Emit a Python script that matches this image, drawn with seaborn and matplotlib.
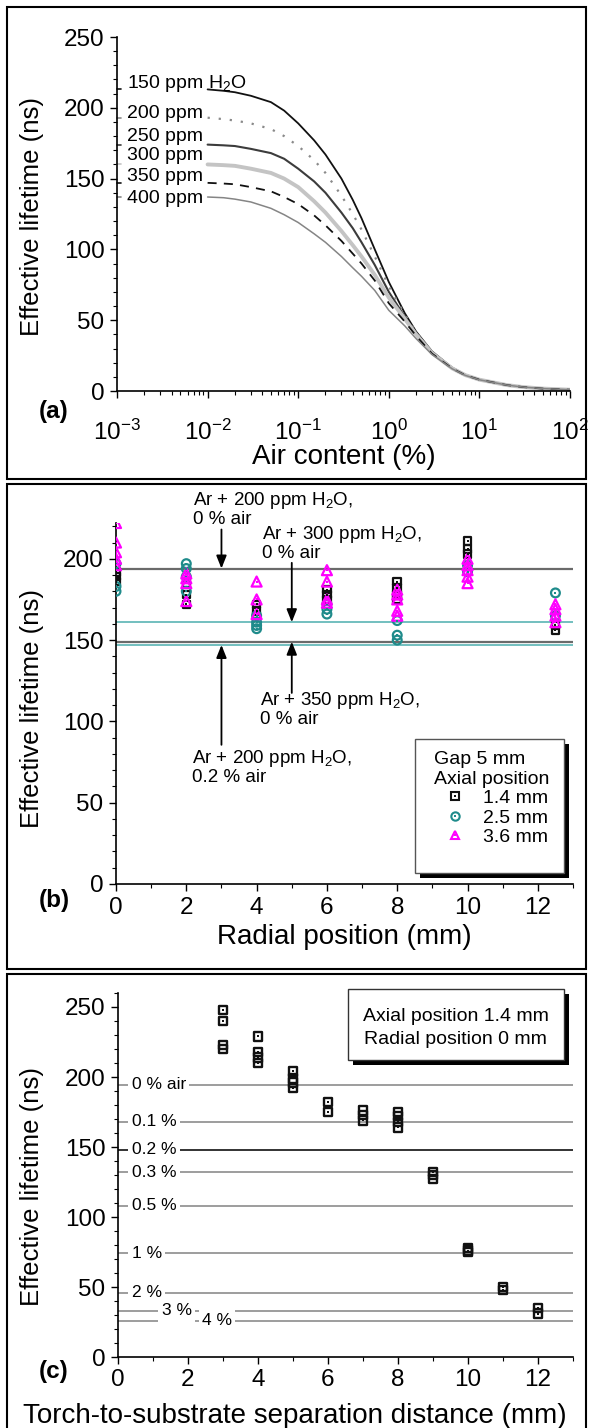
import matplotlib.pyplot as plt
import matplotlib.ticker as mticker
import pandas as pd
import seaborn as sns
from matplotlib.patches import Rectangle
from matplotlib.lines import Line2D
from matplotlib.legend_handler import HandlerTuple

# ---- panel (a): lifetime vs air content, one curve per H2O level
air_content = [0.01, 0.015, 0.02, 0.03, 0.05, 0.07, 0.1, 0.15, 0.2, 0.3, 0.4, 0.5,
               0.7, 1, 1.5, 2, 3, 5, 7, 10, 20, 30, 50, 100]
h2o_labels = ["150 ppm H$_2$O", "200 ppm", "250 ppm", "300 ppm", "350 ppm", "400 ppm"]
tau_150 = [213, 212, 211, 208.5, 204, 198, 189, 177, 167, 150, 135, 122,
           100, 77, 55, 42, 28, 16.5, 11.5, 8, 4.2, 2.8, 1.7, 0.9]
tau_200 = [193, 192, 191, 189, 185, 180, 173, 163, 154, 138, 125, 114,
           95, 74, 54, 41.5, 27.5, 16.3, 11.4, 8, 4.2, 2.8, 1.7, 0.9]
tau_250 = [174, 173.5, 173, 171, 168, 164, 157, 148, 140, 126, 115, 105,
           89, 70, 52.5, 41, 27, 16.2, 11.3, 8, 4.2, 2.8, 1.7, 0.9]
tau_300 = [160, 159.5, 159, 157, 154, 150, 144, 134, 126, 113, 103, 95,
           82, 66, 51, 40, 26.8, 16, 11.2, 8, 4.2, 2.8, 1.7, 0.9]
tau_350 = [147, 146.5, 146, 144, 141, 137, 132, 124, 117, 106, 97, 90,
           78, 62, 49, 39, 26.4, 15.9, 11.1, 8, 4.2, 2.8, 1.7, 0.9]
tau_400 = [137, 136.5, 135.5, 133.5, 129, 124.5, 119, 111, 105, 95, 87, 81,
           71, 57, 46, 37, 25.8, 15.7, 11, 7.9, 4.2, 2.8, 1.7, 0.9]
curves_a = [tau_150, tau_200, tau_250, tau_300, tau_350, tau_400]

# ---- panel (b): lifetime vs radial position for three axial positions
radial_pos = [0, 2, 4, 6, 8, 10, 12.5]
axial_labels = ["1.4 mm", "2.5 mm", "3.6 mm"]
tau_ax14 = [[192, 189, 186], [185, 178, 172], [172, 168, 165], [181, 178, 175],
            [186, 182, 178, 175], [211, 206, 203], [159, 156]]
tau_ax25 = [[197, 183, 180], [197, 194, 189, 180], [165, 161, 159, 157], [172, 169, 166],
            [162, 153, 150], [196, 192], [179, 165]]
tau_ax36 = [[222, 210, 204, 200, 196], [191, 188, 185, 174], [186, 175, 166], [193, 186, 175, 173],
            [181, 178, 175, 168, 165], [200, 196, 193, 189, 185], [172, 169, 165, 161]]
ref_tau_b = [194, 161, 149, 147]
ref_text_b = ["Ar + 200 ppm H$_2$O,\n0 % air", "Ar + 300 ppm H$_2$O,\n0 % air",
              "Ar + 350 ppm H$_2$O,\n0 % air", "Ar + 200 ppm H$_2$O,\n0.2 % air"]

# ---- panel (c): lifetime vs torch-to-substrate distance
separation = [3, 4, 5, 6, 7, 8, 9, 10, 11, 12]
tau_sep = [[248, 240, 223, 220], [229, 218, 214, 210], [204, 199, 196, 192], [182, 175],
           [176, 173, 169], [175, 172, 168, 164], [132, 130, 127], [78, 76, 75], [50, 48], [35, 31]]
air_labels = ["0 % air", "0.1 %", "0.2 %", "0.3 %", "0.5 %", "1 %", "2 %", "3 %", "4 %"]
air_tau = [194.5, 168, 148, 132, 108, 74, 46, 33, 26]

sns.set_style("ticks", {"axes.edgecolor": "black", "xtick.color": "black", "ytick.color": "black",
                        "text.color": "black", "axes.labelcolor": "black"})
plt.rcParams["font.family"] = ["Liberation Sans", "DejaVu Sans"]
plt.rcParams["mathtext.fontset"] = "custom"
plt.rcParams["mathtext.rm"] = "Liberation Sans"
plt.rcParams["mathtext.it"] = "Liberation Sans:italic"
plt.rcParams["mathtext.bf"] = "Liberation Sans:bold"

W, H = 589, 1428
fig = plt.figure(figsize=(W / 100, H / 100), dpi=100)


def fx(px):
    return px / W


def fy(py):
    return 1 - py / H


AX_A = (117, 570, 37, 391)
AX_B = (116, 573, 523, 884)
AX_C = (118, 573, 993, 1357)


def add_axes(box):
    l, r, t, b = box
    return fig.add_axes([l / W, 1 - b / H, (r - l) / W, (b - t) / H])


def style_axes(ax, box, xlabel, xlab_x, xlab_y, ylab_y):
    l, r, t, b = box
    sns.despine(ax=ax)
    ax.set_facecolor("none")
    for s in ["left", "bottom"]:
        ax.spines[s].set_linewidth(1.2)
    ax.tick_params(which="major", direction="out", length=5, width=1.0, labelsize=17.5, pad=4)
    ax.tick_params(which="minor", direction="out", length=3, width=0.8)
    ax.set_xlabel(xlabel, fontsize=20)
    ax.set_ylabel("Effective lifetime (ns)", fontsize=18.5)
    ax.xaxis.label.set_va("center")
    ax.yaxis.label.set_va("center")
    ax.xaxis.set_label_coords((xlab_x - l) / (r - l), (b - xlab_y) / (b - t))
    ax.yaxis.set_label_coords((32 - l) / (r - l), (b - ylab_y) / (b - t))


# panel frames
for top, bot in [(7, 479), (484, 969), (974, 1440)]:
    fig.patches.append(Rectangle((fx(7), fy(bot)), (586 - 7) / W, (bot - top) / H,
                                 transform=fig.transFigure, fill=False, ec="black", lw=1.5))

# ================= panel (a)
axA = add_axes(AX_A)
styles_a = [dict(color="#111111", lw=1.3, ls="-"),
            dict(color="#8a8a8a", lw=1.6, ls=(0, (1, 4))),
            dict(color="#3c3c3c", lw=1.5, ls="-"),
            dict(color="#c4c4c4", lw=2.8, ls="-"),
            dict(color="#111111", lw=1.3, ls=(0, (5, 4))),
            dict(color="#858585", lw=1.1, ls="-")]
label_y_a = [217, 196, 180, 166, 151.5, 136]
for tau, st, lab, ly in zip(curves_a, styles_a, h2o_labels, label_y_a):
    sns.lineplot(x=air_content, y=tau, ax=axA, color=st["color"], lw=st["lw"], linestyle=st["ls"])
    axA.plot([1e-3, 1.12e-3], [tau[0], tau[0]], color=st["color"], lw=1.2, clip_on=False)
    axA.text(1.3e-3, ly, lab, fontsize=14, va="center", ha="left")
axA.set_xscale("log")
axA.set_xlim(1e-3, 1e2)
axA.set_ylim(0, 250)
axA.set_yticks(range(0, 251, 50))
axA.yaxis.set_minor_locator(mticker.MultipleLocator(10))
axA.xaxis.set_major_locator(mticker.LogLocator(base=10, numticks=10))
axA.xaxis.set_minor_locator(mticker.LogLocator(base=10, subs=range(2, 10), numticks=20))
axA.xaxis.set_minor_formatter(mticker.NullFormatter())
style_axes(axA, AX_A, "Air content (%)", 343.5, 456.7, 216)
axA.tick_params(axis="x", which="major", pad=16)

# ================= panel (b)
axB = add_axes(AX_B)
rows = []
for lab, groups in zip(axial_labels, [tau_ax14, tau_ax25, tau_ax36]):
    for r, vals in zip(radial_pos, groups):
        for v in vals:
            rows.append({"radial": r, "tau": v, "axial": lab})
df_b = pd.DataFrame(rows)

marker_b = {"1.4 mm": "s", "2.5 mm": "o", "3.6 mm": "^"}
color_b = {"1.4 mm": "#111111", "2.5 mm": "#1f8b8b", "3.6 mm": "#ff00ff"}
size_b = {"1.4 mm": 30, "2.5 mm": 40, "3.6 mm": 52}

ref_color_b = ["#6a6a6a", "#5ab4b4", "#6a6a6a", "#5ab4b4"]
ref_lw_b = [1.6, 1.2, 1.6, 1.2]
for v, c, lw in zip(ref_tau_b, ref_color_b, ref_lw_b):
    axB.axhline(v, color=c, lw=lw, zorder=1)

for lab in axial_labels:
    sub = df_b[df_b["axial"] == lab]
    sns.scatterplot(data=sub, x="radial", y="tau", ax=axB, marker=marker_b[lab], s=size_b[lab],
                    facecolor="none", edgecolor=color_b[lab], linewidth=1.6, zorder=3, legend=False)
    sns.scatterplot(data=sub, x="radial", y="tau", ax=axB, marker="s", s=2.5,
                    color=color_b[lab], linewidth=0, zorder=3.1, legend=False)

# annotation texts and arrows
ann_pos = [(2.2, 230.5), (4.14, 210), (4.1, 107.5), (2.16, 71.7)]
arrow_x = [3, 5, 5, 3]
arrow_from = [218, 197.5, 117.5, 85.6]
for txt, (tx, ty), ax_x, a0, a1 in zip(ref_text_b, ann_pos, arrow_x, arrow_from, ref_tau_b):
    axB.text(tx, ty, txt, fontsize=13.5, va="center", ha="left", linespacing=1.0, clip_on=False)
    axB.annotate("", xy=(ax_x, a1), xytext=(ax_x, a0),
                 arrowprops=dict(arrowstyle="-|>,head_length=0.55,head_width=0.22", color="black",
                                 lw=1.3, shrinkA=0, shrinkB=0, mutation_scale=14), annotation_clip=False)

axB.set_xlim(0, 13)
axB.set_ylim(0, 222)
axB.set_xticks(range(0, 13, 2))
axB.xaxis.set_minor_locator(mticker.MultipleLocator(1))
axB.set_yticks(range(0, 201, 50))
axB.yaxis.set_minor_locator(mticker.MultipleLocator(10))
style_axes(axB, AX_B, "Radial position (mm)", 344.5, 936.7, 708)

# legend box with a solid shadow
bx0, bx1, by0, by1 = 415, 563.5, 739, 873
axB.add_patch(Rectangle((fx(bx0 + 5), fy(by1 + 5)), (bx1 - bx0) / W, (by1 - by0) / H,
                        transform=fig.transFigure, fc="black", ec="black", lw=0, zorder=4, clip_on=False))
axB.add_patch(Rectangle((fx(bx0), fy(by1)), (bx1 - bx0) / W, (by1 - by0) / H,
                        transform=fig.transFigure, fc="white", ec="#555555", lw=1.0, zorder=4.5, clip_on=False))
handles = []
for lab in axial_labels:
    h1 = Line2D([], [], ls="none", marker=marker_b[lab], ms=6, mfc="none", mec=color_b[lab], mew=1.5)
    h2 = Line2D([], [], ls="none", marker="s", ms=1.6, mfc=color_b[lab], mec=color_b[lab], mew=0)
    handles.append((h1, h2))
leg = axB.legend(handles, axial_labels, handler_map={tuple: HandlerTuple(ndivide=1)},
                 title="Gap 5 mm\nAxial position", loc="upper left",
                 bbox_to_anchor=(fx(434), fy(751)), bbox_transform=fig.transFigure,
                 frameon=False, fontsize=14, title_fontsize=14, alignment="left",
                 handlelength=2.2, handletextpad=0.34, labelspacing=0.1,
                 borderpad=0, borderaxespad=0, numpoints=1)
leg.set_zorder(6)

# ================= panel (c)
axC = add_axes(AX_C)
rows = []
for d, vals in zip(separation, tau_sep):
    for v in vals:
        rows.append({"distance": d, "tau": v})
df_c = pd.DataFrame(rows)

label_x_c = [0.39] * 7 + [1.25, 2.4]
for lab, v, lx in zip(air_labels, air_tau, label_x_c):
    c = "#111111" if lab == "0.2 %" else "#8c8c8c"
    axC.axhline(v, color=c, lw=1.2, zorder=1)
    axC.text(lx, v, lab, fontsize=12.5, va="center", ha="left", zorder=2,
             bbox=dict(fc="white", ec="none", pad=2.5))

sns.scatterplot(data=df_c, x="distance", y="tau", ax=axC, marker="s", s=38,
                facecolor="none", edgecolor="#111111", linewidth=1.7, zorder=3, legend=False)
sns.scatterplot(data=df_c, x="distance", y="tau", ax=axC, marker="s", s=2.5,
                color="#111111", linewidth=0, zorder=3.1, legend=False)

axC.set_xlim(0, 13)
axC.set_ylim(0, 260)
axC.set_xticks(range(0, 13, 2))
axC.xaxis.set_minor_locator(mticker.MultipleLocator(1))
axC.set_yticks(range(0, 251, 50))
axC.yaxis.set_minor_locator(mticker.MultipleLocator(10))
style_axes(axC, AX_C, "Torch-to-substrate separation distance (mm)", 295, 1416, 1186)

cx0, cx1, cy0, cy1 = 347.5, 563.5, 989, 1060
axC.add_patch(Rectangle((fx(cx0 + 5), fy(cy1 + 5)), (cx1 - cx0) / W, (cy1 - cy0) / H,
                        transform=fig.transFigure, fc="black", ec="black", lw=0, zorder=4, clip_on=False))
axC.add_patch(Rectangle((fx(cx0), fy(cy1)), (cx1 - cx0) / W, (cy1 - cy0) / H,
                        transform=fig.transFigure, fc="white", ec="#333333", lw=1.0, zorder=4.5, clip_on=False))
axC.text(fx(455.5), fy(1016.7), "Axial position 1.4 mm", transform=fig.transFigure,
         fontsize=14, ha="center", va="center", zorder=6)
axC.text(fx(455.5), fy(1040), "Radial position 0 mm", transform=fig.transFigure,
         fontsize=14, ha="center", va="center", zorder=6)

# panel letters
for letter, py in [("(a)", 411.7), ("(b)", 900), ("(c)", 1371.7)]:
    fig.text(fx(54), fy(py), letter, fontsize=17.5, fontweight="bold", ha="center", va="center")

fig.savefig("out.png", dpi=100)
